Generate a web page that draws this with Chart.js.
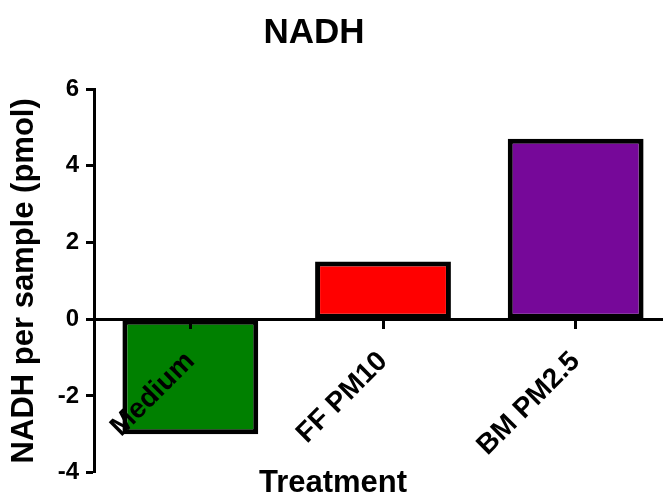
<!DOCTYPE html>
<html>
<head>
<meta charset="utf-8">
<title>NADH</title>
<script src="https://cdn.jsdelivr.net/npm/chart.js@4/dist/chart.umd.min.js"></script>
<style>
  html, body { margin: 0; padding: 0; background: #fff; overflow: hidden; }
  #wrap { width: 663px; height: 494px; overflow: hidden; position: relative; }
  #chart { display: block; }
</style>
</head>
<body>
<div id="wrap"><canvas id="chart" width="672" height="494"></canvas></div>
<script>
// Treatment groups and measured NADH amounts (pmol per sample)
const categories = ['Medium', 'FF PM10', 'BM PM2.5'];
const nadhValues = [-3.0, 1.5, 4.7];
const barColors = ['#008000', '#ff0000', '#760899'];

// Value axis range and tick step
const yMin = -4;
const yMax = 6;
const yStep = 2;

const FONT = "'Liberation Sans', Arial, Helvetica, sans-serif";

// Chart heading and x-axis caption drawn on the canvas
const captions = {
  id: 'captions',
  afterDraw(chart) {
    const ctx = chart.ctx;
    ctx.save();
    ctx.fillStyle = '#000';
    ctx.textAlign = 'center';
    ctx.textBaseline = 'alphabetic';
    ctx.font = 'bold 35px ' + FONT;
    ctx.fillText('NADH', 314, 43);
    ctx.font = 'bold 31px ' + FONT;
    ctx.fillText('Treatment', 333, 492);
    ctx.restore();
  }
};

new Chart(document.getElementById('chart'), {
  type: 'bar',
  data: {
    labels: categories,
    datasets: [{
      data: nadhValues,
      backgroundColor: barColors,
      borderColor: '#000',
      borderWidth: 5,
      borderSkipped: false,
      barPercentage: 0.705,
      categoryPercentage: 1.0
    }]
  },
  options: {
    responsive: false,
    animation: false,
    layout: { padding: { top: 89, bottom: 21, left: 0, right: 0 } },
    plugins: {
      legend: { display: false },
      title: { display: false },
      tooltip: { enabled: false }
    },
    scales: {
      x: {
        position: { y: 0 },
        offset: true,
        border: { display: true, color: '#000', width: 3, z: 1 },
        grid: {
          display: true,
          offset: false,
          drawOnChartArea: false,
          drawTicks: true,
          tickLength: 8,
          tickColor: '#000',
          tickWidth: 3,
          z: 1
        },
        ticks: {
          autoSkip: false,
          maxRotation: 45,
          minRotation: 45,
          padding: 18,
          z: 1,
          color: '#000',
          font: { family: FONT, size: 28, weight: 'bold' }
        }
      },
      y: {
        min: yMin,
        max: yMax,
        afterFit(scale) { scale.width = 94; },
        border: { display: true, color: '#000', width: 3 },
        grid: {
          display: true,
          drawOnChartArea: false,
          drawTicks: true,
          tickLength: 8,
          tickColor: '#000',
          tickWidth: 3
        },
        ticks: {
          stepSize: yStep,
          padding: 7,
          color: '#000',
          font: { family: FONT, size: 24, weight: 'bold' }
        },
        title: {
          display: true,
          text: 'NADH per sample (pmol)',
          color: '#000',
          padding: { top: 6, bottom: 0 },
          font: { family: FONT, size: 31, weight: 'bold' }
        }
      }
    }
  },
  plugins: [captions]
});
</script>
</body>
</html>
